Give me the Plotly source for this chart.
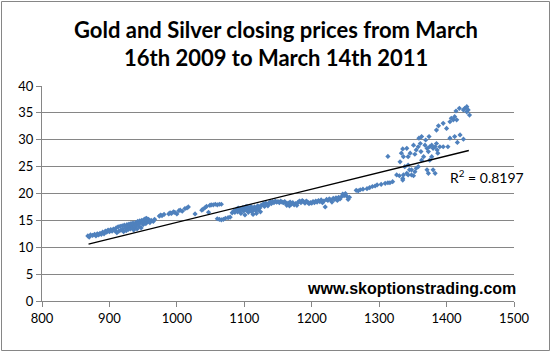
import plotly.graph_objects as go

# Gold closing price (x) and silver closing price (y)
gold = [
    868, 870, 872, 875, 878, 880, 882, 884, 886, 888, 890, 892, 894, 896, 898, 900, 902, 904, 906, 908,
    910, 911, 913, 914, 916, 917, 919, 920, 921, 922, 924, 925, 926, 927, 928, 929, 930, 931, 932, 933,
    934, 935, 936, 937, 938, 939, 940, 941, 942, 943, 944, 945, 946, 947, 948, 949, 950, 951, 952, 953,
    954, 955, 956, 957, 958, 960, 962, 965, 967,
    974, 976, 978, 981, 988, 990, 992, 995, 997, 1000, 1003, 1005, 1008, 1012, 1015, 1017, 1027, 1037,
    1039, 1042, 1044, 1047, 1049, 1051, 1054, 1057, 1060, 1063, 1066,
    1060, 1063, 1066, 1069, 1072, 1076, 1079,
    1082, 1084, 1086, 1087, 1089, 1090, 1091, 1093, 1094, 1095, 1097, 1098, 1099, 1100, 1101, 1102, 1103,
    1104, 1105, 1106, 1107, 1108, 1109, 1110, 1111, 1112, 1113, 1114, 1115, 1116, 1117, 1118, 1119, 1120,
    1121, 1123, 1124, 1125,
    1127, 1129, 1130, 1132, 1134, 1135, 1137, 1139, 1140, 1142, 1144, 1146, 1148, 1150, 1152, 1154, 1156,
    1158, 1160, 1162, 1163, 1165, 1167, 1168, 1170, 1172, 1174, 1176, 1178, 1180, 1182, 1184, 1186, 1188,
    1190, 1192, 1194, 1196, 1198, 1200, 1202, 1204, 1206, 1208, 1210, 1212, 1214, 1216, 1218, 1220, 1222,
    1224, 1226, 1228, 1230, 1232, 1234, 1236, 1238, 1240, 1242, 1244, 1246, 1248, 1250, 1252, 1254, 1256,
    1269,
    1266, 1272, 1276, 1282, 1286, 1290, 1294, 1297, 1303, 1309, 1313, 1316, 1320, 1313,
    1326, 1330, 1335, 1336, 1341, 1343, 1348, 1351, 1345, 1338, 1331, 1336, 1333, 1335, 1341, 1343, 1346,
    1351, 1353, 1355, 1358, 1359, 1361, 1363, 1358, 1355, 1353, 1348, 1343, 1363, 1366, 1368, 1371, 1373,
    1375, 1378, 1380, 1383, 1385, 1386, 1387, 1390, 1374, 1369, 1378, 1375, 1371, 1373, 1380, 1383, 1395,
    1402, 1405, 1412, 1416, 1420, 1425, 1385, 1388, 1395, 1400, 1405, 1407, 1410, 1412, 1415, 1414, 1419,
    1427, 1430, 1432, 1425, 1434, 1430, 1362, 1335,
]
silver = [
    12.1, 11.9, 12.3, 12.2, 12.4, 12.1, 12.5, 12.3, 12.6, 12.4, 12.8, 12.5, 13.0, 12.8, 13.2, 12.9, 13.3, 13.0, 13.4, 13.1,
    13.6, 12.7, 13.8, 13.0, 13.9, 13.2, 14.0, 13.4, 12.9, 14.1, 13.6, 13.1, 14.2, 13.8, 13.3, 14.3, 13.9, 13.4, 14.4, 14.0,
    13.6, 14.5, 13.2, 14.1, 13.7, 14.6, 14.2, 13.4, 14.8, 14.4, 13.9, 14.9, 14.6, 13.6, 15.0, 14.7, 14.2, 15.1, 14.8, 15.3,
    14.4, 15.4, 15.0, 14.7, 15.2, 14.6, 15.0, 14.8, 15.2,
    15.8, 16.0, 15.9, 16.1, 16.2, 16.4, 16.3, 16.6, 16.5, 16.2, 16.8, 16.9, 16.7, 17.2, 17.3, 17.5, 16.2, 16.9,
    17.1, 17.4, 17.6, 16.5, 17.8, 17.9, 17.9, 18.0, 17.9, 18.0, 18.0,
    15.3, 15.2, 15.1, 15.2, 15.4, 15.5, 15.6,
    16.4, 16.7, 16.5, 16.9, 17.1, 16.6, 17.3, 16.8, 17.2, 16.3, 17.0, 17.4, 16.7, 17.1, 16.0, 17.5, 16.9,
    17.6, 17.2, 16.5, 17.4, 16.8, 17.0, 17.6, 16.6, 17.3, 16.1, 17.0, 17.5, 17.2, 16.8, 16.3, 17.4, 17.7,
    16.9, 17.3, 16.6, 17.8,
    17.9, 18.1, 17.6, 18.2, 18.0, 17.7, 18.3, 18.4, 18.1, 18.5, 18.3, 18.6, 18.4, 18.5, 18.3, 18.6, 18.4,
    18.3, 18.5, 18.1, 17.8, 18.2, 17.7, 18.4, 18.0, 18.3, 17.9, 18.1, 17.8, 18.4, 18.6, 18.3, 18.7, 18.5,
    18.2, 18.6, 18.4, 18.1, 18.3, 18.2, 18.5, 18.3, 18.6, 18.4, 18.7, 18.5, 18.8, 18.3, 18.6, 17.5, 18.9,
    18.7, 19.0, 18.8, 18.4, 19.1, 18.9, 19.2, 18.7, 19.3, 19.0, 19.4, 19.9, 19.6, 20.0, 19.5, 18.9, 19.3,
    20.5,
    20.6, 20.7, 20.8, 20.9, 21.1, 21.3, 21.4, 21.6, 21.7, 21.9, 22.0, 22.0, 22.2, 26.9,
    23.45, 23.3, 22.8, 23.45, 23.75, 23.45, 23.45, 23.3, 24.4, 25.0, 25.9, 26.85, 27.5, 28.3, 28.4, 26.85, 27.5,
    29.0, 27.3, 28.1, 28.7, 30.3, 29.3, 30.6, 25.0, 24.7, 24.05, 24.4, 25.3, 26.2, 26.85, 29.0, 28.4, 27.8,
    28.7, 29.0, 28.4, 28.7, 29.3, 28.1, 27.5, 28.7, 30.6, 29.95, 26.85, 26.2, 24.4, 23.75, 24.4, 23.75, 28.7,
    28.7, 30.3, 30.6, 29.5, 30.9, 30.1, 31.8, 32.6, 33.05, 32.1, 33.35, 34.0, 33.7, 34.3, 33.7, 35.35, 35.85,
    35.85, 36.15, 35.55, 35.55, 34.6, 35.2, 27.8, 22.5,
]

# Linear trendline end points as drawn
trend_gold = [869, 1433]
trend_silver = [10.6, 28.0]

title_lines = ["Gold and Silver closing prices from March", "16th 2009 to March 14th 2011"]
r2_text = "R<sup>2</sup> = 0.8197"
watermark = "www.skoptionstrading.com"
x_ticks = [800, 900, 1000, 1100, 1200, 1300, 1400, 1500]
y_ticks = [0, 5, 10, 15, 20, 25, 30, 35, 40]

W, H = 552, 353
L, R, T, B = 42, 38, 86, 52
pw, ph = W - L - R, H - T - B

def px_to_paper_x(px):
    return (px - L) / pw

def px_to_paper_y(py):
    return (H - B - py) / ph

fig = go.Figure()
fig.add_trace(go.Scatter(
    x=gold, y=silver, mode="markers",
    marker=dict(symbol="diamond", size=4, color="#4F81BD", line=dict(width=0)),
    showlegend=False, hoverinfo="x+y",
))
fig.add_trace(go.Scatter(
    x=trend_gold, y=trend_silver, mode="lines",
    line=dict(color="black", width=1.3), showlegend=False, hoverinfo="skip",
))

grid = "#868686"
title_font = dict(family="Lato, Calibri, sans-serif", size=22, color="black", weight="bold")
annotations = [
    dict(text=title_lines[0], xref="paper", yref="paper",
         x=px_to_paper_x(276), y=px_to_paper_y(30),
         xanchor="center", yanchor="middle", showarrow=False, font=title_font),
    dict(text=title_lines[1], xref="paper", yref="paper",
         x=px_to_paper_x(276), y=px_to_paper_y(57),
         xanchor="center", yanchor="middle", showarrow=False, font=title_font),
    dict(text=r2_text, xref="paper", yref="paper",
         x=px_to_paper_x(487), y=px_to_paper_y(176),
         xanchor="center", yanchor="middle", showarrow=False,
         font=dict(family="Lato, Calibri, sans-serif", size=14, color="black")),
    dict(text="<b>" + watermark + "</b>", xref="paper", yref="paper",
         x=px_to_paper_x(411), y=px_to_paper_y(288),
         xanchor="center", yanchor="middle", showarrow=False,
         font=dict(family="Liberation Sans, Arial, sans-serif", size=16, color="black")),
]

fig.update_layout(
    width=W, height=H,
    margin=dict(l=L, r=R, t=T, b=B, pad=0),
    paper_bgcolor="white", plot_bgcolor="white",
    font=dict(family="Lato, Calibri, sans-serif", size=13, color="black"),
    xaxis=dict(
        range=[800, 1500], tickvals=x_ticks, ticktext=[str(v) for v in x_ticks],
        showgrid=False, zeroline=False,
        showline=True, linecolor=grid, linewidth=1,
        ticks="outside", ticklen=5, tickcolor=grid, tickwidth=1,
        tickfont=dict(size=13, color="black"),
    ),
    yaxis=dict(
        range=[0, 40], tickvals=y_ticks, ticktext=[str(v) for v in y_ticks],
        showgrid=True, gridcolor=grid, gridwidth=1, zeroline=False,
        showline=True, linecolor=grid, linewidth=1,
        ticks="outside", ticklen=5, tickcolor=grid, tickwidth=1,
        tickfont=dict(size=13, color="black"),
    ),
    annotations=annotations,
    shapes=[
        dict(type="rect", xref="paper", yref="paper",
             x0=px_to_paper_x(1.5), x1=px_to_paper_x(549.5),
             y0=px_to_paper_y(350.5), y1=px_to_paper_y(1.5),
             line=dict(color=grid, width=1), fillcolor="rgba(0,0,0,0)", layer="below"),
    ],
)

fig.write_html("out.html")
